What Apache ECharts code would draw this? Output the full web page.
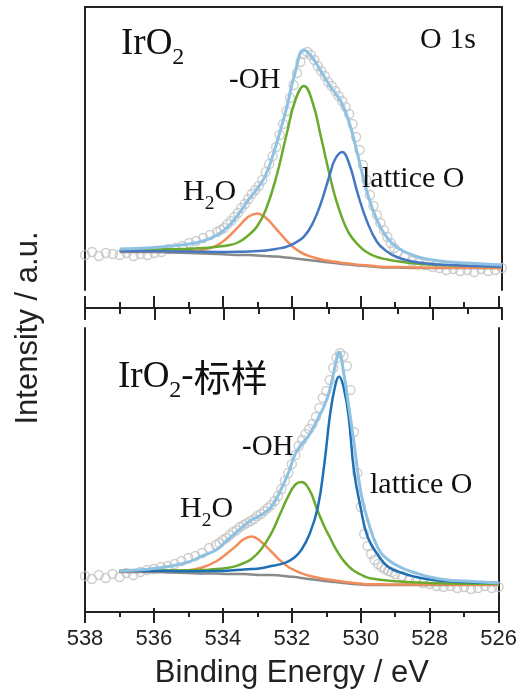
<!DOCTYPE html>
<html><head><meta charset="utf-8">
<script src="https://cdn.jsdelivr.net/npm/echarts@6/dist/echarts.min.js"></script>
<style>html,body{margin:0;padding:0;background:#fff}#c{width:520px;height:697px}</style>
</head><body><div id="c"></div>
<script>
// ---------- Top panel (IrO2) ----------
const fitE_top = [537, 536.5, 536, 535.5, 535, 534.6, 534.2, 533.9, 533.6, 533.3, 533.05, 532.8, 532.5, 532.2, 531.95, 531.7, 531.45, 531.2, 530.95, 530.8, 530.6, 530.4, 530.15, 529.9, 529.6, 529.3, 529, 528.5, 528, 527.5, 527, 526.5, 526];
const bgTop = [38, 38, 38, 37.5, 37, 36.5, 36, 35.5, 35, 35, 34.5, 34, 33.5, 32.5, 31.5, 30.5, 29.5, 28.5, 27.5, 27, 26, 25.5, 24.5, 24, 23, 22.5, 22.5, 22, 22, 22, 22, 22, 22];
const h2oTop = [38.4, 38.5, 38.6, 38.6, 38.9, 40.3, 44.7, 52.3, 62.7, 73.2, 76.5, 72.2, 61.2, 49.3, 41.2, 36, 32.9, 30.6, 28.9, 28.3, 27, 26.4, 25.3, 24.7, 23.6, 23, 23, 22.4, 22.3, 22.2, 22.2, 22.1, 22.1];
const ohTop = [39.7, 40.1, 40.6, 40.8, 41.2, 41.9, 43.3, 44.5, 47.5, 54.6, 63.5, 80, 112.5, 155.5, 189.5, 204, 187.5, 151.5, 113.5, 93, 72, 56.5, 45.5, 38, 33, 30.5, 28.7, 26.5, 25.3, 24.8, 24.3, 23.9, 23.6];
const latTop = [38.7, 38.8, 38.8, 38.6, 38.4, 38.2, 38.1, 38.1, 38.2, 38.5, 38.9, 39.6, 41.1, 43.3, 47.2, 53.3, 66.5, 87.9, 116, 131, 138, 126.5, 96.2, 70, 48.3, 38.2, 32.5, 27.9, 26.1, 24.9, 24.2, 23.8, 23.3];
const envTop = [41, 41.5, 42.5, 44, 46, 49, 55, 63, 75, 90, 101, 115, 145, 182, 218, 240, 232, 218, 204, 197, 186, 168, 135, 100, 70, 52, 42, 34, 30, 28, 27, 26, 25];
const rawE_top = [538, 537.8, 537.6, 537.4, 537.2, 537, 536.8, 536.6, 536.4, 536.2, 536, 535.8, 535.6, 535.4, 535.2, 535, 534.8, 534.6, 534.4, 534.2,
  534.1, 534, 533.9, 533.8, 533.7, 533.6, 533.5, 533.4, 533.3, 533.2, 533.1, 533, 532.9, 532.8, 532.7, 532.6, 532.5, 532.4, 532.3, 532.2, 532.1, 532, 531.9, 531.8, 531.7, 531.6, 531.5, 531.4, 531.3, 531.2, 531.1, 531, 530.9, 530.8, 530.7, 530.6, 530.5, 530.4, 530.3, 530.2, 530.1, 530, 529.9, 529.8, 529.7, 529.6, 529.5, 529.4, 529.3, 529.2, 529.1, 529,
  528.8, 528.6, 528.4, 528.2, 528, 527.8, 527.6, 527.4, 527.2, 527, 526.8, 526.6, 526.4, 526.2, 526];
const rawI_top = [35, 38, 34, 37, 36, 35, 37, 34, 36, 35, 37, 38, 41, 42, 44, 47, 49, 52, 55, 58,
  60, 62, 66, 69, 73, 77, 82, 86, 91, 96, 100, 104, 110, 118, 126, 134, 143, 155, 166, 179, 192, 205, 217, 228, 236, 238, 235, 230, 224, 219, 214, 208, 204, 199, 194, 189, 183, 176, 166, 153, 140, 125, 110, 95, 84, 75, 67, 60, 53, 47, 42, 38,
  33, 29, 27, 25, 23, 22, 20, 21, 19, 20, 18, 21, 19, 20, 22];

// ---------- Bottom panel (IrO2-标样) ----------
const fitE_bot = [537, 536.5, 536, 535.5, 535, 534.6, 534.2, 533.9, 533.6, 533.4, 533.17, 532.9, 532.6, 532.35, 532.1, 531.9, 531.73, 531.5, 531.25, 531.05, 530.9, 530.75, 530.63, 530.5, 530.35, 530.2, 530, 529.8, 529.5, 529.2, 528.8, 528.4, 528, 527.5, 527, 526.5, 526];
const bgBot = [40, 40, 40, 39.5, 39, 38.5, 38.5, 38, 38, 38, 37.5, 37, 37, 36.5, 35.5, 35, 34, 33, 32, 31, 30.5, 30, 29.5, 29, 28.5, 28, 27.5, 27, 27, 27, 27, 27, 27, 27, 27, 27, 27];
const h2oBot = [40.6, 40.8, 41.1, 41.2, 41.7, 44.5, 50.5, 58, 66.5, 72.8, 75.5, 70.6, 60.6, 51.9, 45, 41.5, 38.8, 36.2, 34.4, 32.9, 32.2, 31.6, 30.9, 30.3, 29.6, 29, 28.4, 27.8, 27.7, 27.6, 27.6, 27.5, 27.4, 27.4, 27.3, 27.3, 27.3];
const ohBot = [41.2, 41.3, 41.5, 41.4, 41.7, 41.9, 43, 43.9, 46.1, 49, 53.1, 62.2, 78.3, 97.2, 116.1, 127.4, 130, 122.8, 101, 85, 75, 64.6, 57.7, 51.4, 45.6, 41.2, 37.5, 34.4, 32.5, 31.4, 30.3, 29.6, 29, 28.6, 28.3, 28.2, 28];
const latBot = [40.9, 41, 41, 40.9, 40.8, 40.8, 41, 41.3, 42, 42.6, 42.9, 43.8, 45.9, 47.6, 50.7, 55.2, 61.8, 76.7, 104, 150, 195, 225, 235.5, 225, 195, 142, 103.7, 75, 57, 45, 39, 35, 32.5, 30.7, 29.9, 29.3, 28.9];
const envBot = [41, 42, 43.5, 46, 50, 56, 62, 71, 80, 86, 92, 97, 105, 120, 139, 158, 167, 177, 193, 207, 222, 245, 260, 240, 206, 170, 120, 92, 64, 52, 44, 39, 35, 32, 31, 30, 29];
const rawE_bot = rawE_top.slice();
const rawI_bot = [36, 33, 37, 34, 38, 35, 39, 37, 40, 42, 43, 45, 46, 48, 51, 54, 56, 59, 64, 67,
  69, 72, 74, 77, 80, 82, 85, 87, 89, 91, 93, 96, 98, 101, 104, 107, 111, 116, 123, 131, 139, 148, 157, 166, 172, 178, 183, 188, 195, 204, 214, 221, 232, 244, 254, 259, 256, 246, 222, 180, 139, 105, 78, 66, 58, 52, 48, 45, 43, 41, 40, 38,
  36, 32, 31, 29, 28, 26, 25, 26, 24, 25, 23, 24, 26, 24, 25];

const xMin = 526, xMax = 538, xStep = 2;

// ---------- styles ----------
const frame = {color: '#222', width: 2};
const serif = '"Liberation Serif", "Times New Roman", serif';
const sans = '"Liberation Sans", Arial, sans-serif';
const cjk = '"Noto Sans CJK SC", sans-serif';
const C = {data: '#c2c2c2', bg: '#8a8a8a', h2o: '#f48c5a', oh: '#6aab2e', latTop: '#4577c2', latBot: '#1f6fb4', env: '#8ec1e2'};

const pairs = (xs, ys) => xs.map((x, i) => [x, ys[i]]);
function line(xi, yi, xs, ys, color, w, z) {
  return {type: 'line', xAxisIndex: xi, yAxisIndex: yi, data: pairs(xs, ys), smooth: 0.45,
    showSymbol: false, symbol: 'none', lineStyle: {color: color, width: w}, z: z, silent: true, animation: false};
}
function dots(xi, yi, xs, ys) {
  return {type: 'scatter', xAxisIndex: xi, yAxisIndex: yi, data: pairs(xs, ys), symbol: 'circle', symbolSize: 9,
    itemStyle: {color: 'rgba(255,255,255,0)', borderColor: C.data, borderWidth: 1.4}, z: 1, silent: true, animation: false};
}

const xBase = {type: 'value', min: xMin, max: xMax, interval: xStep, inverse: true, splitLine: {show: false},
  axisLabel: {show: false}, axisTick: {show: false}, minorTick: {show: false},
  axisLine: {show: true, onZero: false, lineStyle: frame}, silent: true};
const yBase = {type: 'value', min: 0, splitLine: {show: false}, axisLabel: {show: false}, axisTick: {show: false},
  axisLine: {show: true, onZero: false, lineStyle: frame}, silent: true};

const chart = echarts.init(document.getElementById('c'), null, {renderer: 'canvas'});
chart.setOption({
  animation: false,
  backgroundColor: '#fff',
  grid: [
    {left: 85, top: 7, width: 417, height: 283},
    {left: 85, top: 328, width: 417, height: 284}
  ],
  xAxis: [
    Object.assign({}, xBase, {gridIndex: 0, position: 'top'}),
    Object.assign({}, xBase, {gridIndex: 0, position: 'bottom', offset: 18,
      axisTick: {show: true, inside: false, length: 12, lineStyle: frame},
      minorTick: {show: true, splitNumber: 2, length: 6, lineStyle: frame}}),
    Object.assign({}, xBase, {gridIndex: 1, position: 'top', offset: 20,
      axisTick: {show: true, inside: false, length: 12, lineStyle: frame},
      minorTick: {show: true, splitNumber: 2, length: 6, lineStyle: frame}}),
    Object.assign({}, xBase, {gridIndex: 1, position: 'bottom',
      axisTick: {show: true, inside: false, length: 11, lineStyle: frame},
      minorTick: {show: true, splitNumber: 2, length: 5, lineStyle: frame},
      axisLabel: {show: true, fontSize: 22, fontFamily: sans, color: '#222', margin: 16},
      name: 'Binding Energy / eV', nameLocation: 'middle', nameGap: 46,
      nameTextStyle: {fontSize: 31, fontFamily: sans, color: '#222'}}),
    Object.assign({}, xBase, {gridIndex: 1, position: 'bottom', axisLine: {show: false},
      axisTick: {show: true, inside: true, length: 4, lineStyle: frame}})
  ],
  yAxis: [
    Object.assign({}, yBase, {gridIndex: 0, max: 283, position: 'left'}),
    Object.assign({}, yBase, {gridIndex: 0, max: 283, position: 'right'}),
    Object.assign({}, yBase, {gridIndex: 1, max: 284, position: 'left'}),
    Object.assign({}, yBase, {gridIndex: 1, max: 284, position: 'right'})
  ],
  series: [
    dots(0, 0, rawE_top, rawI_top),
    line(0, 0, fitE_top, bgTop, C.bg, 2.5, 2),
    line(0, 0, fitE_top, h2oTop, C.h2o, 2.5, 3),
    line(0, 0, fitE_top, ohTop, C.oh, 2.5, 4),
    line(0, 0, fitE_top, latTop, C.latTop, 2.5, 5),
    line(0, 0, fitE_top, envTop, C.env, 3, 6),
    dots(3, 2, rawE_bot, rawI_bot),
    line(3, 2, fitE_bot, bgBot, C.bg, 2.5, 2),
    line(3, 2, fitE_bot, h2oBot, C.h2o, 2.5, 3),
    line(3, 2, fitE_bot, ohBot, C.oh, 2.5, 4),
    line(3, 2, fitE_bot, latBot, C.latBot, 2.5, 5),
    line(3, 2, fitE_bot, envBot, C.env, 3, 6)
  ],
  graphic: [
    {type: 'text', x: 28, y: 328, rotation: Math.PI / 2, z: 100,
      style: {text: 'Intensity / a.u.', fontSize: 31, fontFamily: sans, fill: '#222', align: 'center', verticalAlign: 'middle'}},
    {type: 'text', x: 121, y: 19, z: 100,
      style: {text: '{a|IrO}{b|2}', align: 'left', verticalAlign: 'top',
        rich: {a: {fontSize: 37, fontFamily: serif, fill: '#111'}, b: {fontSize: 24, fontFamily: serif, fill: '#111', padding: [27, 0, 0, 0]}}}},
    {type: 'text', x: 420, y: 40, z: 100,
      style: {text: 'O 1s', fontSize: 30, fontFamily: serif, fill: '#111', align: 'left', verticalAlign: 'middle'}},
    {type: 'text', x: 229, y: 80, z: 100,
      style: {text: '-OH', fontSize: 29, fontFamily: serif, fill: '#111', align: 'left', verticalAlign: 'middle'}},
    {type: 'text', x: 183, y: 171, z: 100,
      style: {text: '{a|H}{b|2}{a|O}', align: 'left', verticalAlign: 'top',
        rich: {a: {fontSize: 30, fontFamily: serif, fill: '#111'}, b: {fontSize: 19.5, fontFamily: serif, fill: '#111', padding: [23, 0, 0, 0]}}}},
    {type: 'text', x: 362, y: 179, z: 100,
      style: {text: 'lattice O', fontSize: 30, fontFamily: serif, fill: '#111', align: 'left', verticalAlign: 'middle'}},
    {type: 'text', x: 118, y: 352, z: 100,
      style: {text: '{a|IrO}{b|2}{a|-}{c|标样}', align: 'left', verticalAlign: 'top',
        rich: {a: {fontSize: 37, fontFamily: serif, fill: '#111'}, b: {fontSize: 24, fontFamily: serif, fill: '#111', padding: [27, 0, 0, 0]},
          c: {fontSize: 37, fontFamily: cjk, fill: '#111'}}}},
    {type: 'text', x: 242, y: 447, z: 100,
      style: {text: '-OH', fontSize: 29, fontFamily: serif, fill: '#111', align: 'left', verticalAlign: 'middle'}},
    {type: 'text', x: 180, y: 488, z: 100,
      style: {text: '{a|H}{b|2}{a|O}', align: 'left', verticalAlign: 'top',
        rich: {a: {fontSize: 30, fontFamily: serif, fill: '#111'}, b: {fontSize: 19.5, fontFamily: serif, fill: '#111', padding: [23, 0, 0, 0]}}}},
    {type: 'text', x: 370, y: 485, z: 100,
      style: {text: 'lattice O', fontSize: 30, fontFamily: serif, fill: '#111', align: 'left', verticalAlign: 'middle'}}
  ]
});
</script>
</body></html>
